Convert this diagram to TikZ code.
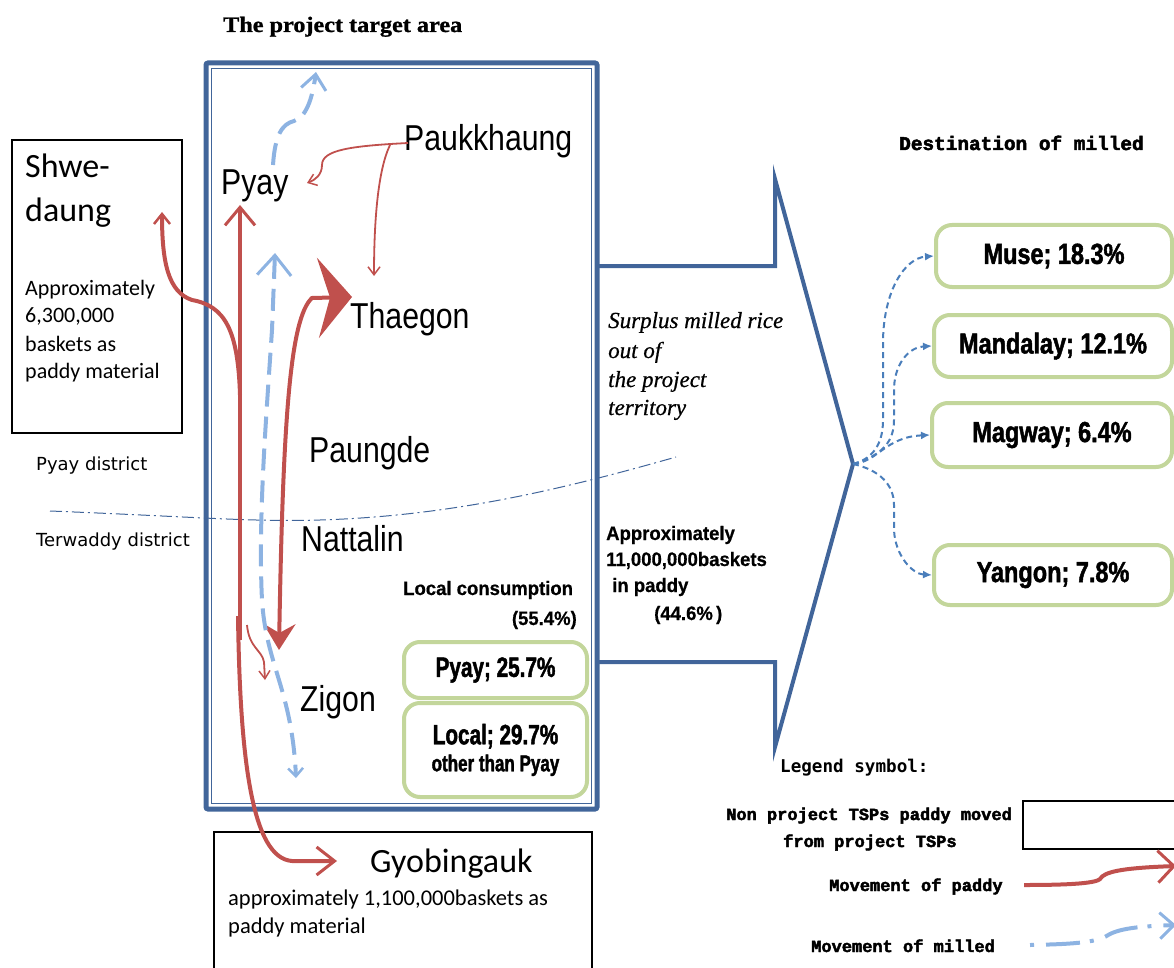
\documentclass[tikz,border=0pt]{standalone}
\usepackage{fontspec}
\usetikzlibrary{arrows.meta}
\setmainfont{Liberation Sans}
\newfontfamily\townfont[FakeStretch=0.84]{Liberation Sans}
\newfontfamily\tagfontL[FakeStretch=0.74,FakeBold=1.6]{Liberation Sans}
\newfontfamily\tagfontR[FakeStretch=0.81,FakeBold=1.6]{Liberation Sans}
\newfontfamily\boldsmfont[FakeStretch=0.95,FakeBold=0.6]{Liberation Sans}
\newfontfamily\calfont{Carlito}
\newfontfamily\distfont{DejaVu Sans}
\newfontfamily\monob[FakeBold=2.5]{Liberation Mono}
\newfontfamily\legsans{DejaVu Sans Mono}
\newfontfamily\titlefont[FakeStretch=1.1,FakeBold=1]{Liberation Serif}
\newfontfamily\serfont[FakeBold=0.6]{Liberation Serif}

\definecolor{frameblue}{HTML}{41659A}
\definecolor{paddyred}{HTML}{C0504D}
\definecolor{milledblue}{HTML}{8DB3E2}
\definecolor{tagGreen}{HTML}{C3D69B}
\definecolor{fanblue}{HTML}{4A7EBB}

\begin{document}
\begin{tikzpicture}[x=1pt,y=-1pt,
  txt/.style={inner sep=0pt, anchor=base west},
  town/.style={txt, font=\townfont\fontsize{36}{40}\selectfont},
  calib/.style={txt, font=\calfont\fontsize{22}{26}\selectfont},
  bigcal/.style={txt, font=\calfont\fontsize{34}{38}\selectfont},
  boldsm/.style={txt, font=\boldsmfont\bfseries\fontsize{19.5}{22}\selectfont},
  legtxt/.style={txt, font=\monob\bfseries\fontsize{17}{20}\selectfont},
  survey/.style={txt, font=\serfont\itshape\fontsize{23}{26}\selectfont},
  district/.style={txt, font=\distfont\fontsize{18}{21}\selectfont},
  tagbox/.style={draw=tagGreen, line width=4pt, rounded corners=16pt, fill=white, inner sep=0pt, align=center},
  tagL/.style={tagbox, font=\tagfontL\bfseries\fontsize{28}{30}\selectfont},
  tagR/.style={tagbox, font=\tagfontR\bfseries\fontsize{29}{31}\selectfont},
  plainbox/.style={draw=black, line width=1.5pt},
  paddy/.style={draw=paddyred, line width=4pt},
  paddythin/.style={draw=paddyred, line width=1.8pt},
  milled/.style={draw=milledblue, line width=4pt, dash pattern=on 22pt off 10pt},
  fan/.style={draw=fanblue, line width=2pt, dash pattern=on 6pt off 4pt, -{Latex[length=9pt,width=8pt]}},
  callout/.style={draw=frameblue, line width=4pt, line join=miter},
  boundary/.style={draw=frameblue, line width=1pt, dash pattern=on 12pt off 4pt on 2pt off 4pt}
]
\useasboundingbox (0,0) rectangle (1174,968);

% ---- project area frame (double line)
\draw[frameblue, line width=5pt, rounded corners=2pt] (206,63) rectangle (597,809);
\draw[frameblue, line width=1.2pt] (211.5,68.5) rectangle (591.5,803.5);

% ---- outside source / destination boxes
\draw[plainbox] (12,140) rectangle (182,433);
\draw[plainbox] (214,832) rectangle (592,985);

% ---- district boundary
\draw[boundary] (50,511) .. controls (200,517) and (250,522) .. (320,520)
  .. controls (450,516) and (560,490) .. (676,457);

% ---- callout towards the destinations
\coordinate (coA) at (598,266);
\coordinate (coB) at (775,266);
\coordinate (coC) at (775,179);
\coordinate (fanTip) at (853,464);
\coordinate (coD) at (775,747);
\coordinate (coE) at (775,662);
\coordinate (coF) at (598,662);
\draw[callout] (coA) -- (coB) -- (coC) -- (fanTip) -- (coD) -- (coE) -- (coF);

% ---- titles
\node[txt, font=\titlefont\bfseries\fontsize{22}{24}\selectfont] (title) at (223,32) {The project target area};
\node[txt, font=\monob\bfseries\fontsize{19.4}{22}\selectfont] (desttitle) at (899,150) {Destination of milled};

% ---- Shwe-daung
\node[bigcal] (sd1) at (25,178) {Shwe-};
\node[bigcal] (sd2) at (25,222) {daung};
\node[calib] (sd3) at (25,295) {Approximately};
\node[calib] (sd4) at (25,322) {6,300,000};
\node[calib] (sd5) at (25,351) {baskets as};
\node[calib] (sd6) at (25,378) {paddy material};

% ---- Gyobingauk
\node[bigcal] (gy1) at (370,872) {Gyobingauk};
\node[calib, font=\calfont\fontsize{22.5}{26}\selectfont] (gy2) at (228,905) {approximately 1,100,000baskets as};
\node[calib, font=\calfont\fontsize{22.5}{26}\selectfont] (gy3) at (228,933) {paddy material};

% ---- districts
\node[district] (dPyay) at (36,470) {Pyay district};
\node[district] (dTer) at (36,546) {Terwaddy district};

% ---- townships
\node[town] (pyay) at (221,195) {Pyay};
\node[town] (paukk) at (404,151) {Paukkhaung};
\node[town] (thaegon) at (350,328) {Thaegon};
\node[town] (paungde) at (309,462) {Paungde};
\node[town] (nattalin) at (301,551) {Nattalin};
\node[town] (zigon) at (300,711) {Zigon};

% ---- local consumption
\node[boldsm] (lc1) at (403,595) {Local consumption};
\node[boldsm, anchor=base east] (lc2) at (577,625) {(55.4\%)};
\node[tagL, minimum width=183pt, minimum height=56pt] (tPyay) at (495.5,670) {Pyay; 25.7\%};
\node[tagL, minimum width=183pt, minimum height=94pt] (tLocal) at (495.5,750)
  {Local; 29.7\%\\[-3pt]{\fontsize{23}{25}\selectfont other than Pyay}};

% ---- surplus text
\node[survey] (sp1) at (608,328) {Surplus milled rice};
\node[survey] (sp2) at (608,358) {out of};
\node[survey] (sp3) at (608,387) {the project};
\node[survey] (sp4) at (608,415) {territory};
\node[boldsm] (ap1) at (606,540) {Approximately};
\node[boldsm] (ap2) at (606,566) {11,000,000baskets};
\node[boldsm] (ap3) at (612,592) {in paddy};
\node[boldsm] (ap4) at (654,620) {(44.6\%\,)};

% ---- destinations
\node[tagR, minimum width=236pt, minimum height=62pt] (muse) at (1054,256) {Muse; 18.3\%};
\node[tagR, minimum width=238pt, minimum height=62pt] (mandalay) at (1053,346) {Mandalay; 12.1\%};
\node[tagR, minimum width=240pt, minimum height=64pt] (magway) at (1052,435) {Magway; 6.4\%};
\node[tagR, minimum width=238pt, minimum height=60pt] (yangon) at (1053,575) {Yangon; 7.8\%};

\draw[fan] (fanTip) .. controls (876,458) and (883,440) .. (883,420) -- (883,340)
  .. controls (884,290) and (905,258) .. (muse.west);
\draw[fan] (fanTip) .. controls (884,455) and (894,440) .. (894,420) -- (894,388)
  .. controls (895,362) and (910,347) .. (mandalay.west);
\draw[fan] (fanTip) .. controls (878,462) and (885,437) .. (magway.west);
\draw[fan] (fanTip) .. controls (880,470) and (894,485) .. (894,505) -- (894,530)
  .. controls (895,555) and (912,574) .. (yangon.west);

% ---- movements of paddy
\coordinate (sdFoot) at (240,395);
\coordinate (sdTip) at (162,212);
\draw[paddy, -{Straight Barb[length=10pt,width=16pt,line width=2.5pt]}]
  (sdFoot) .. controls (238,330) and (225,306) .. (192,300)
  .. controls (168,292) and (162,262) .. (sdTip);

\coordinate (pyFoot) at (240,640);
\coordinate (pyTip) at (240,205);
\draw[paddy, -{Straight Barb[length=18pt,width=30pt,line width=3pt]}] (pyFoot) -- (pyTip);

\coordinate (gyStart) at (238,616);
\coordinate (gyBend) at (292,861);
\coordinate (gyTip) at (337,861);
\draw[paddy, -{Straight Barb[length=18pt,width=28pt,line width=3pt]}]
  (gyStart) .. controls (240,760) and (252,858) .. (gyBend) -- (gyTip);

\coordinate (zgTip) at (279,650);
\coordinate (thBend) at (312,298);
\coordinate (thTip) at (352,297);
\draw[paddy, {Stealth[length=26pt,width=32pt,inset=9pt]}-{Stealth[length=34pt,width=80pt,inset=12pt]}]
  (zgTip) .. controls (283,420) and (290,318) .. (thBend) -- (thTip);

\coordinate (smStart) at (247,625);
\coordinate (smTip) at (265,680);
\draw[paddythin, -{Straight Barb[length=8pt,width=11pt,line width=1.5pt]}]
  (smStart) .. controls (249,648) and (262,650) .. (264,662) -- (smTip);

\coordinate (pkStart) at (408,143);
\coordinate (pkFork) at (390,145);
\coordinate (pkToPyay) at (307,183);
\coordinate (pkToThaegon) at (374,276);
\draw[paddythin, -{Straight Barb[length=8pt,width=12pt,line width=1.5pt]}]
  (pkStart) .. controls (350,146) and (322,150) .. (322,165)
  .. controls (322,175) and (315,180) .. (pkToPyay);
\draw[paddythin, -{Straight Barb[length=8pt,width=12pt,line width=1.5pt]}]
  (pkFork) .. controls (378,170) and (374,220) .. (pkToThaegon);

% ---- movements of milled rice
\coordinate (mlTopStart) at (273,165);
\coordinate (mlTopTip) at (316,72);
\draw[milled, -{Straight Barb[length=15pt,width=25pt,line width=3pt]}]
  (mlTopStart) .. controls (275,135) and (282,124) .. (294,121)
  .. controls (306,117) and (312,100) .. (mlTopTip);

\coordinate (mlUpTip) at (275,253);
\coordinate (mlDownTip) at (296,778);
\draw[milled, {Straight Barb[length=20pt,width=34pt,line width=3pt]}-{Straight Barb[length=8pt,width=15pt,line width=2.5pt]}]
  (mlUpTip) -- (272,330) .. controls (266,420) and (258,520) .. (262,600)
  .. controls (266,665) and (292,690) .. (mlDownTip);

% ---- legend
\node[txt, font=\legsans\bfseries\fontsize{17.6}{20}\selectfont] (legTitle) at (780,772) {Legend symbol:};
\node[legtxt] (leg1a) at (726,820) {Non project TSPs paddy moved};
\node[legtxt] (leg1b) at (783,847) {from project TSPs};
\node[plainbox, anchor=north west, minimum width=165pt, minimum height=48pt, inner sep=0pt] (legBox) at (1022,800) {};
\node[legtxt] (leg2) at (829,891) {Movement of paddy};
\node[legtxt] (leg3) at (811,952) {Movement of milled};

\coordinate (lpStart) at (1024,885);
\coordinate (lpTip) at (1176,866);
\draw[paddy, -{Straight Barb[length=16pt,width=32pt,line width=3pt]}]
  (lpStart) .. controls (1060,885) and (1095,884) .. (1100,879)
  .. controls (1104,872) and (1120,868) .. (lpTip);

\coordinate (lmStart) at (1030,945);
\coordinate (lmTip) at (1176,925);
\draw[milled, dash pattern=on 4pt off 12pt on 34pt off 10pt, -{Straight Barb[length=14pt,width=26pt,line width=3pt]}]
  (lmStart) .. controls (1080,944) and (1098,942) .. (1110,934)
  .. controls (1124,927) and (1150,926) .. (lmTip);
\end{tikzpicture}
\end{document}
